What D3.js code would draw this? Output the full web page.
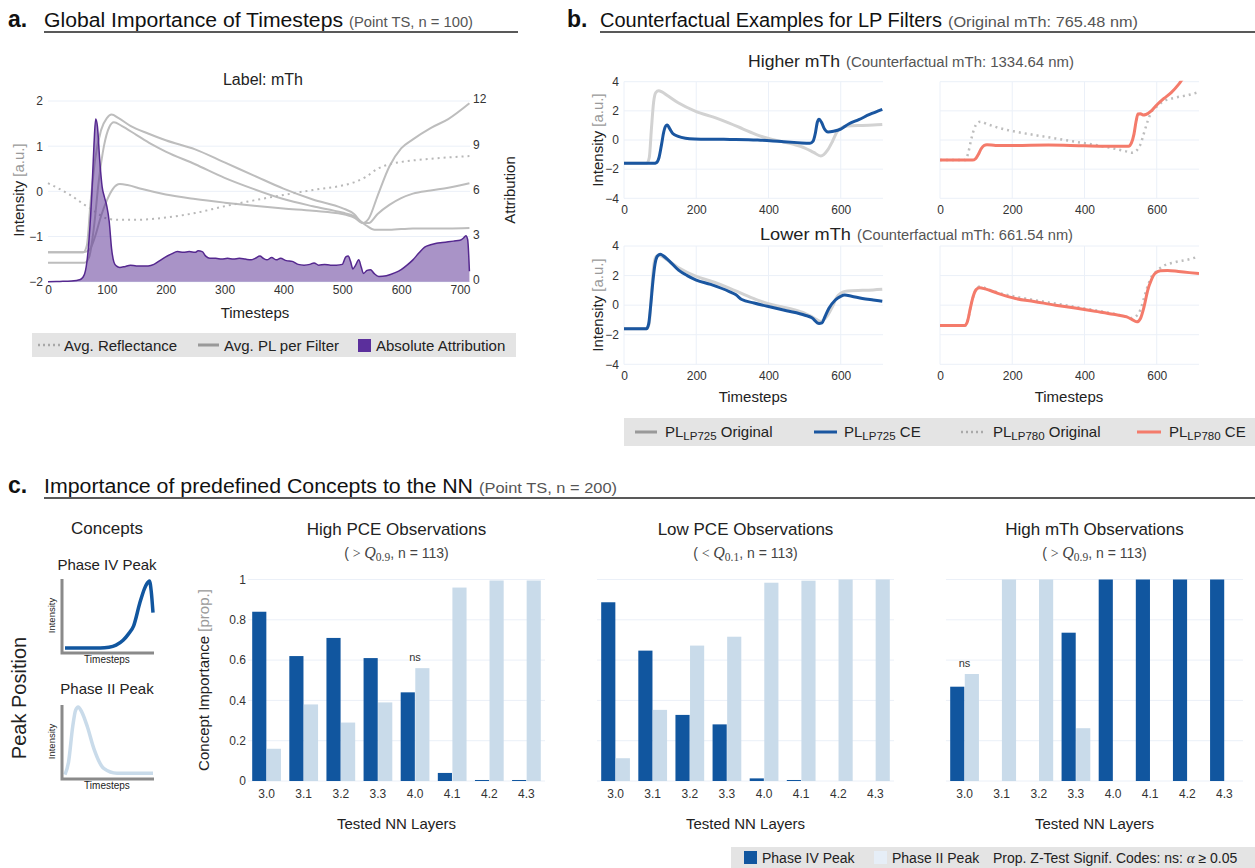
<!DOCTYPE html>
<html><head><meta charset="utf-8">
<script src="https://cdn.jsdelivr.net/npm/d3@7"></script>
<style>body{margin:0;background:#fff;} svg{display:block;font-family:"Liberation Sans",Arial,Helvetica,sans-serif;}</style>
</head><body><svg id="c" width="1255" height="868"></svg>
<script>
// ---------------- DATA ----------------
const aXTicks = [0,100,200,300,400,500,600,700];
const aYLeftTicks = [-2,-1,0,1,2];
const aYRightTicks = [0,3,6,9,12];
const reflectance = [[0,0.18],[20,0.05],[40,-0.1],[60,-0.28],[80,-0.45],[100,-0.6],[120,-0.63],[150,-0.63],[200,-0.58],[250,-0.48],[300,-0.33],[350,-0.2],[400,-0.08],[450,0.03],[500,0.13],[520,0.2],[540,0.32],[560,0.5],[580,0.6],[600,0.65],[650,0.72],[716,0.78]];
const plFilter1 = [[0,-1.35],[60,-1.35],[66,-1.2],[72,-0.3],[80,0.7],[90,1.35],[100,1.62],[108,1.7],[120,1.62],[140,1.45],[170,1.28],[200,1.13],[250,0.93],[300,0.64],[350,0.35],[400,0.06],[450,-0.18],[500,-0.37],[520,-0.5],[535,-0.7],[545,-0.6],[560,-0.1],[580,0.55],[600,0.95],[620,1.15],[650,1.4],[680,1.6],[716,1.95]];
const plFilter2 = [[0,-1.58],[62,-1.58],[70,-1.45],[78,-0.8],[86,0.2],[95,1.0],[104,1.42],[112,1.53],[125,1.45],[150,1.25],[175,1.05],[200,0.88],[250,0.6],[300,0.3],[350,0.05],[400,-0.17],[450,-0.33],[500,-0.47],[520,-0.55],[540,-0.75],[555,-0.85],[580,-0.85],[620,-0.82],[680,-0.82],[716,-0.81]];
const plFilter3 = [[0,-1.35],[60,-1.35],[70,-1.3],[80,-1.0],[90,-0.55],[100,-0.2],[110,0.05],[122,0.16],[135,0.14],[160,0.05],[200,-0.07],[250,-0.17],[300,-0.25],[350,-0.32],[400,-0.38],[450,-0.43],[500,-0.5],[520,-0.58],[535,-0.7],[545,-0.7],[560,-0.5],[580,-0.3],[600,-0.15],[620,-0.05],[650,0.02],[680,0.08],[716,0.18]];
const attribution = [[0,0],[20,0.02],[40,0.05],[55,0.15],[62,0.5],[68,2],[74,5.5],[78,9],[81,10.8],[84,10.3],[88,8],[92,6.3],[96,5.6],[100,5.0],[104,4.0],[108,2.2],[112,1.3],[116,1.05],[122,0.95],[130,1.0],[140,1.1],[150,1.05],[160,1.05],[170,1.05],[180,1.15],[190,1.4],[200,1.65],[210,1.85],[220,2.0],[230,1.95],[240,2.0],[250,1.95],[255,2.05],[262,2.0],[268,1.7],[275,1.55],[285,1.55],[295,1.5],[305,1.55],[315,1.5],[325,1.55],[335,1.5],[345,1.45],[352,1.55],[360,1.7],[366,1.55],[372,1.45],[380,1.6],[388,1.45],[395,1.55],[405,1.4],[415,1.35],[425,1.15],[435,1.1],[445,1.15],[452,1.25],[460,1.1],[470,1.15],[480,1.1],[490,1.1],[500,1.15],[506,1.65],[510,1.7],[514,1.35],[518,0.85],[522,1.05],[528,1.45],[532,1.0],[536,0.55],[542,0.75],[548,0.8],[554,0.55],[562,0.35],[575,0.4],[590,0.6],[600,0.8],[610,1.1],[620,1.45],[630,1.9],[640,2.3],[650,2.45],[660,2.55],[670,2.6],[680,2.65],[690,2.7],[700,2.75],[706,2.9],[710,3.05],[713,2.8],[716,0.7]];

const bXTicks = [0,200,400,600];
const bYTicks = [-4,-2,0,2,4];
const lp725Original = [[0,-1.6],[63,-1.6],[70,-1.2],[76,0.8],[82,2.6],[88,3.25],[96,3.38],[105,3.3],[120,3.05],[150,2.55],[200,1.95],[250,1.55],[293,1.14],[330,0.75],[370,0.34],[400,0.1],[436,-0.11],[470,-0.3],[501,-0.55],[525,-0.85],[545,-1.1],[553,-1.0],[564,-0.68],[577,-0.1],[590,0.57],[600,0.8],[611,0.93],[630,0.98],[660,1.0],[690,1.03],[715,1.07]];
const lp725CEHigher = [[0,-1.6],[82,-1.6],[90,-1.55],[97,-1.2],[104,-0.3],[110,0.55],[116,0.98],[120,1.03],[126,0.8],[135,0.45],[150,0.25],[170,0.12],[195,0.07],[250,0.05],[300,0.04],[370,0.0],[436,-0.11],[480,-0.18],[515,-0.23],[523,-0.1],[530,0.5],[535,1.2],[540,1.42],[547,1.2],[555,0.75],[565,0.55],[580,0.6],[600,0.75],[622,1.1],[650,1.4],[680,1.75],[715,2.1]];
const lp725CELower = [[0,-1.6],[62,-1.6],[68,-1.3],[74,0.0],[80,1.6],[86,2.8],[92,3.3],[100,3.45],[108,3.35],[125,3.0],[151,2.37],[175,2.0],[200,1.7],[240,1.4],[293,0.9],[310,0.7],[326,0.38],[360,0.15],[403,-0.11],[450,-0.38],[501,-0.68],[520,-0.85],[540,-1.24],[548,-1.2],[556,-0.8],[567,-0.23],[585,0.35],[600,0.6],[611,0.68],[630,0.6],[660,0.45],[690,0.35],[715,0.27]];
const lp780Original = [[0,-1.38],[70,-1.38],[78,-0.9],[86,0.0],[95,0.8],[105,1.2],[112,1.26],[130,1.1],[160,0.85],[209,0.57],[260,0.35],[319,0.11],[370,-0.1],[429,-0.34],[480,-0.58],[515,-0.78],[530,-0.87],[545,-0.7],[555,-0.3],[565,0.5],[575,1.3],[585,1.9],[600,2.3],[617,2.63],[650,2.9],[690,3.1],[717,3.3]];
const lp780CEHigher = [[0,-1.38],[90,-1.38],[98,-1.3],[106,-1.0],[114,-0.6],[122,-0.38],[130,-0.32],[154,-0.38],[200,-0.38],[300,-0.35],[400,-0.4],[500,-0.43],[522,-0.43],[530,-0.2],[537,0.4],[543,1.3],[548,1.78],[555,1.8],[562,1.72],[570,1.75],[585,2.0],[600,2.4],[620,2.85],[640,3.25],[660,3.8],[675,4.3],[700,4.8]];
const lp780CELower = [[0,-1.38],[68,-1.38],[76,-1.1],[84,-0.2],[92,0.6],[100,1.05],[110,1.17],[125,1.1],[160,0.8],[209,0.45],[260,0.25],[320,0.0],[374,-0.2],[430,-0.42],[480,-0.62],[517,-0.8],[530,-0.95],[545,-1.13],[555,-0.9],[565,-0.1],[575,1.0],[585,1.7],[595,2.14],[610,2.32],[630,2.35],[660,2.28],[690,2.2],[717,2.14]];

const conceptPhaseIV = [[0,0.03],[0.4,0.03],[0.5,0.04],[0.58,0.07],[0.66,0.14],[0.72,0.23],[0.78,0.35],[0.85,0.68],[0.9,0.88],[0.93,0.96],[0.96,1.0],[0.98,0.85],[1.0,0.54]];
const conceptPhaseII = [[0,0.02],[0.04,0.2],[0.087,0.71],[0.12,0.95],[0.15,1.0],[0.19,0.93],[0.255,0.71],[0.33,0.39],[0.44,0.11],[0.59,0.04],[1,0.04]];

const layers = ["3.0","3.1","3.2","3.3","4.0","4.1","4.2","4.3"];
const barYTicks = [0,0.2,0.4,0.6,0.8,1];
const highPCE_IV = [0.84,0.62,0.71,0.61,0.44,0.04,0.005,0.005];
const highPCE_II = [0.16,0.38,0.29,0.39,0.56,0.96,0.995,0.995];
const highPCE_sig = ["","","","","ns","","",""];
const lowPCE_IV = [0.887,0.647,0.328,0.281,0.013,0.005,0,0];
const lowPCE_II = [0.113,0.353,0.672,0.716,0.984,0.994,1,1];
const lowPCE_sig = ["","","","","","","",""];
const highMth_IV = [0.468,0,0,0.736,1,1,1,1];
const highMth_II = [0.531,1,1,0.262,0,0,0,0];
const highMth_sig = ["ns","","","","","","",""];

// ---------------- DRAW ----------------
const FONT = '"Liberation Sans",Arial,Helvetica,sans-serif';
const SERIF = '"Liberation Serif","DejaVu Serif",serif';
const svg = d3.select("#c");
const GRID = "#ebf0f8";
const DARK = "#11569f", LIGHT = "#c9dbea";

function T(g, x, y, s, o = {}) {
  const t = g.append("text").attr("x", x).attr("y", y).text(s)
    .attr("font-size", o.size || 12).attr("fill", o.fill || "#222")
    .attr("text-anchor", o.anchor || "start");
  if (o.weight) t.attr("font-weight", o.weight);
  if (o.len) t.attr("textLength", o.len).attr("lengthAdjust", "spacingAndGlyphs");
  if (o.family) t.attr("font-family", o.family);
  return t;
}
function rotLabel(g, cx, cy, main, extra, size) {
  const t = g.append("text").attr("transform", `translate(${cx},${cy}) rotate(-90)`)
    .attr("text-anchor", "middle").attr("dy", "0.35em").attr("font-size", size);
  t.append("tspan").attr("fill", "#222").text(main);
  if (extra) t.append("tspan").attr("fill", "#9a9a9a").text(extra);
}
function styleAxis(a, size) {
  a.attr("font-family", FONT).attr("font-size", size || 12);
  a.select(".domain").remove();
  a.selectAll("text").attr("fill", "#333");
}
const fmt = d => (d < 0 ? "\u2212" + Math.abs(d) : String(d));

// Headers
function header(x0, letter, lx, title, tlen, sub, slen, y, ux1) {
  T(svg, lx, y, letter, {size: 23, weight: "bold", fill: "#111"});
  T(svg, x0, y, title, {size: 20, len: tlen, fill: "#111"});
  T(svg, x0 + tlen + 6, y, sub, {size: 14, len: slen, fill: "#555"});
  svg.append("line").attr("x1", x0).attr("x2", ux1).attr("y1", y + 5).attr("y2", y + 5).attr("stroke", "#222").attr("stroke-width", 1.4);
}
header(44, "a.", 8, "Global Importance of Timesteps", 299, "(Point TS, n = 100)", 124, 27, 518);
header(600, "b.", 567, "Counterfactual Examples for LP Filters", 342, "(Original mTh: 765.48 nm)", 190, 27, 1255);
header(44, "c.", 8, "Importance of predefined Concepts to the NN", 429, "(Point TS, n = 200)", 138, 493, 1255);

// ---------- Panel a ----------
const gA = svg.append("g");
const xA = d3.scaleLinear().domain([0, 700]).range([48, 460]);
const yAL = d3.scaleLinear().domain([-2, 2]).range([281.7, 101]);
const yAR = d3.scaleLinear().domain([0, 12]).range([281.7, 101]);
aYLeftTicks.forEach(v => gA.append("line").attr("x1", 48).attr("x2", 470).attr("y1", yAL(v)).attr("y2", yAL(v)).attr("stroke", GRID));
T(gA, 263, 85, "Label: mTh", {size: 16, anchor: "middle"});
const lineA = d3.line().x(d => xA(d[0])).y(d => yAL(d[1])).curve(d3.curveMonotoneX);
[plFilter1, plFilter2, plFilter3].forEach(s => gA.append("path").attr("d", lineA(s)).attr("fill", "none").attr("stroke", "#bdbdbd").attr("stroke-width", 2));
gA.append("path").attr("d", lineA(reflectance)).attr("fill", "none").attr("stroke", "#b8b8b8").attr("stroke-width", 2).attr("stroke-dasharray", "2,4");
const areaA = d3.area().x(d => xA(d[0])).y0(yAR(0)).y1(d => yAR(d[1])).curve(d3.curveMonotoneX);
gA.append("path").attr("d", areaA(attribution)).attr("fill", "rgba(84,39,143,0.5)");
gA.append("path").attr("d", d3.line().x(d => xA(d[0])).y(d => yAR(d[1])).curve(d3.curveMonotoneX)(attribution)).attr("fill", "none").attr("stroke", "#55288f").attr("stroke-width", 1.5);
styleAxis(gA.append("g").attr("transform", `translate(0,${yAL(-2)})`).call(d3.axisBottom(xA).tickValues(aXTicks).tickSize(0).tickPadding(4).tickFormat(d3.format("d"))));
styleAxis(gA.append("g").attr("transform", "translate(48,0)").call(d3.axisLeft(yAL).tickValues(aYLeftTicks).tickSize(0).tickPadding(5).tickFormat(fmt)));
styleAxis(gA.append("g").attr("transform", "translate(464,-2)").call(d3.axisRight(yAR).tickValues(aYRightTicks).tickSize(0).tickPadding(9).tickFormat(fmt)));
T(gA, 255, 318, "Timesteps", {size: 15, anchor: "middle"});
rotLabel(gA, 19, 190, "Intensity ", "[a.u.]", 15);
rotLabel(gA, 510, 190, "Attribution", null, 15);
// legend a
gA.append("rect").attr("x", 32).attr("y", 333).attr("width", 484).attr("height", 24).attr("fill", "#e4e4e4");
gA.append("line").attr("x1", 38).attr("x2", 60).attr("y1", 345).attr("y2", 345).attr("stroke", "#a8a8a8").attr("stroke-width", 2.5).attr("stroke-dasharray", "2,3");
T(gA, 64, 350.5, "Avg. Reflectance", {size: 15});
gA.append("line").attr("x1", 198).attr("x2", 219).attr("y1", 345).attr("y2", 345).attr("stroke", "#999").attr("stroke-width", 3);
T(gA, 224, 350.5, "Avg. PL per Filter", {size: 15});
gA.append("rect").attr("x", 358).attr("y", 339).attr("width", 13).attr("height", 13).attr("fill", "#5b2f9c");
T(gA, 376, 350.5, "Absolute Attribution", {size: 15});

// ---------- Panel b ----------
const gB = svg.append("g");
const xBL = d3.scaleLinear().domain([0, 717]).range([624, 883]);
const xBR = d3.scaleLinear().domain([0, 717]).range([940, 1199]);
const yBT = d3.scaleLinear().domain([-4, 4]).range([198.3, 81.7]);
const yBB = d3.scaleLinear().domain([-4, 4]).range([364.3, 246]);
let clipId = 0;
function subplot(xs, ys, series, showY) {
  const g = gB.append("g");
  const [x0, x1] = xs.range(), [y0, y1] = ys.range();
  bYTicks.forEach(v => g.append("line").attr("x1", x0).attr("x2", x1).attr("y1", ys(v)).attr("y2", ys(v)).attr("stroke", GRID));
  bXTicks.forEach(v => g.append("line").attr("x1", xs(v)).attr("x2", xs(v)).attr("y1", y0).attr("y2", y1).attr("stroke", GRID));
  const id = "clip" + (clipId++);
  g.append("clipPath").attr("id", id).append("rect").attr("x", x0).attr("y", y1 - 1).attr("width", x1 - x0).attr("height", y0 - y1 + 2);
  const ln = d3.line().x(d => xs(d[0])).y(d => ys(d[1])).curve(d3.curveMonotoneX);
  series.forEach(s => {
    const p = g.append("path").attr("d", ln(s.data)).attr("fill", "none").attr("stroke", s.color).attr("stroke-width", s.w).attr("clip-path", `url(#${id})`).attr("stroke-linejoin", "round");
    if (s.dash) p.attr("stroke-dasharray", s.dash);
  });
  styleAxis(g.append("g").attr("transform", `translate(0,${y0})`).call(d3.axisBottom(xs).tickValues(bXTicks).tickSize(0).tickPadding(7).tickFormat(d3.format("d"))));
  if (showY) styleAxis(g.append("g").attr("transform", `translate(${x0},0)`).call(d3.axisLeft(ys).tickValues(bYTicks).tickSize(0).tickPadding(5).tickFormat(fmt)));
}
const C_GRAY = "#d2d2d2", C_BLUE = "#1a56a0", C_SALMON = "#f47b6b", C_DOT = "#bdbdbd";
subplot(xBL, yBT, [{data: lp725Original, color: C_GRAY, w: 3}, {data: lp725CEHigher, color: C_BLUE, w: 3}], true);
subplot(xBR, yBT, [{data: lp780Original, color: C_DOT, w: 2.5, dash: "2,4"}, {data: lp780CEHigher, color: C_SALMON, w: 3}], false);
subplot(xBL, yBB, [{data: lp725Original, color: C_GRAY, w: 3}, {data: lp725CELower, color: C_BLUE, w: 3}], true);
subplot(xBR, yBB, [{data: lp780Original, color: C_DOT, w: 2.5, dash: "2,4"}, {data: lp780CELower, color: C_SALMON, w: 3}], false);
T(gB, 748, 67, "Higher mTh", {size: 16, len: 92});
T(gB, 846, 67, "(Counterfactual mTh: 1334.64 nm)", {size: 14, len: 228, fill: "#555"});
T(gB, 760, 240, "Lower mTh", {size: 16, len: 91});
T(gB, 857, 240, "(Counterfactual mTh: 661.54 nm)", {size: 14, len: 216, fill: "#555"});
rotLabel(gB, 598, 140, "Intensity ", "[a.u.]", 15);
rotLabel(gB, 598, 305, "Intensity ", "[a.u.]", 15);
T(gB, 753, 402, "Timesteps", {size: 15, anchor: "middle"});
T(gB, 1069, 402, "Timesteps", {size: 15, anchor: "middle"});
// legend b
gB.append("rect").attr("x", 624).attr("y", 418).attr("width", 631).attr("height", 28).attr("fill", "#e4e4e4");
function subLabel(x, sub, rest) {
  const t = gB.append("text").attr("x", x).attr("y", 437).attr("font-size", 15).attr("fill", "#222");
  t.append("tspan").text("PL");
  t.append("tspan").attr("font-size", 11.5).attr("dy", 2.5).text(sub);
  t.append("tspan").attr("dy", -2.5).text(rest);
}
gB.append("line").attr("x1", 635).attr("x2", 657).attr("y1", 432).attr("y2", 432).attr("stroke", "#999").attr("stroke-width", 3);
subLabel(665, "LP725", " Original");
gB.append("line").attr("x1", 814).attr("x2", 837).attr("y1", 432).attr("y2", 432).attr("stroke", C_BLUE).attr("stroke-width", 3);
subLabel(844, "LP725", " CE");
gB.append("line").attr("x1", 961).attr("x2", 985).attr("y1", 432).attr("y2", 432).attr("stroke", "#aaa").attr("stroke-width", 2.5).attr("stroke-dasharray", "2,3");
subLabel(993, "LP780", " Original");
gB.append("line").attr("x1", 1137).attr("x2", 1161).attr("y1", 432).attr("y2", 432).attr("stroke", C_SALMON).attr("stroke-width", 3);
subLabel(1169, "LP780", " CE");

// ---------- Panel c ----------
const gC = svg.append("g");
T(gC, 107, 534, "Concepts", {size: 17, anchor: "middle"});
rotLabel(gC, 19, 698, "Peak Position", null, 20);
function mini(titleY, top, bottom, data, color, title) {
  T(gC, 107, titleY, title, {size: 15, anchor: "middle"});
  const xs = d3.scaleLinear().domain([0, 1]).range([65, 153]);
  const ys = d3.scaleLinear().domain([0, 1]).range([bottom - 2, top + 2]);
  gC.append("path").attr("d", d3.line().x(d => xs(d[0])).y(d => ys(d[1])).curve(d3.curveMonotoneX)(data)).attr("fill", "none").attr("stroke", color).attr("stroke-width", 3.5);
  gC.append("path").attr("d", `M62,${top}V${bottom + 1}H154`).attr("fill", "none").attr("stroke", "#8a8a8a").attr("stroke-width", 3);
  T(gC, 107, bottom + 11, "Timesteps", {size: 10, anchor: "middle"});
  gC.append("text").attr("transform", `translate(55,${(top + bottom) / 2}) rotate(-90)`).attr("text-anchor", "middle").attr("font-size", 9.5).attr("fill", "#222").text("Intensity");
}
mini(570, 579, 652, conceptPhaseIV, DARK, "Phase IV Peak");
mini(694, 705, 778, conceptPhaseII, LIGHT, "Phase II Peak");

const yBar = d3.scaleLinear().domain([0, 1]).range([781, 579.5]);
function barPanel(x0, title, op, q, iv, ii, sig, showY) {
  const g = gC.append("g");
  const xs = d3.scaleBand().domain(layers).range([x0, x0 + 297]).paddingInner(0.226).paddingOuter(0.113);
  const sub = d3.scaleBand().domain(["iv", "ii"]).range([0, xs.bandwidth()]).paddingInner(0.03);
  barYTicks.forEach(v => g.append("line").attr("x1", x0).attr("x2", x0 + 297).attr("y1", yBar(v)).attr("y2", yBar(v)).attr("stroke", GRID));
  layers.forEach((l, i) => {
    [["iv", iv[i], DARK], ["ii", ii[i], LIGHT]].forEach(([k, v, c]) => {
      if (v > 0) g.append("rect").attr("x", xs(l) + sub(k)).attr("y", yBar(v)).attr("width", sub.bandwidth()).attr("height", yBar(0) - yBar(v)).attr("fill", c);
    });
    if (sig[i]) T(g, xs(l) + xs.bandwidth() / 2, yBar(Math.max(iv[i], ii[i])) - 7, sig[i], {size: 11, anchor: "middle", fill: "#333"});
  });
  styleAxis(g.append("g").attr("transform", `translate(0,781)`).call(d3.axisBottom(xs).tickSize(0).tickPadding(8)), 12);
  if (showY) styleAxis(g.append("g").attr("transform", `translate(${x0},0)`).call(d3.axisLeft(yBar).tickValues(barYTicks).tickSize(0).tickPadding(2).tickFormat(d => String(d))), 12);
  const cx = x0 + 148.5;
  T(g, cx, 535, title, {size: 17, anchor: "middle"});
  const st = g.append("text").attr("x", cx).attr("y", 558).attr("text-anchor", "middle").attr("font-size", 14).attr("fill", "#444");
  st.append("tspan").text("( ");
  st.append("tspan").attr("font-family", SERIF).text(op + " ");
  st.append("tspan").attr("font-family", SERIF).attr("font-style", "italic").attr("font-size", 16).text("Q");
  st.append("tspan").attr("font-family", SERIF).attr("font-size", 11.5).attr("dy", 3).text(q);
  st.append("tspan").attr("dy", -3).text(", n = 113)");
  T(g, cx, 829, "Tested NN Layers", {size: 15, anchor: "middle"});
}
barPanel(248, "High PCE Observations", ">", "0.9", highPCE_IV, highPCE_II, highPCE_sig, true);
barPanel(597, "Low PCE Observations", "<", "0.1", lowPCE_IV, lowPCE_II, lowPCE_sig, false);
barPanel(946, "High mTh Observations", ">", "0.9", highMth_IV, highMth_II, highMth_sig, false);
rotLabel(gC, 204, 680, "Concept Importance ", "[prop.]", 15);
// legend c
gC.append("rect").attr("x", 731).attr("y", 847).attr("width", 524).attr("height", 21).attr("fill", "#e4e4e4");
gC.append("rect").attr("x", 744).attr("y", 851).attr("width", 13).attr("height", 13).attr("fill", DARK);
T(gC, 762, 862.5, "Phase IV Peak", {size: 14});
gC.append("rect").attr("x", 874).attr("y", 851).attr("width", 13).attr("height", 13).attr("fill", "#e6eef7");
T(gC, 892, 862.5, "Phase II Peak", {size: 14});
const lc = gC.append("text").attr("x", 993).attr("y", 862.5).attr("font-size", 14).attr("fill", "#222");
lc.append("tspan").text("Prop. Z-Test Signif. Codes: ns: ");
lc.append("tspan").attr("font-family", SERIF).attr("font-style", "italic").attr("font-size", 15).text("\u03b1");
lc.append("tspan").text(" \u2265 0.05");
</script></body></html>
